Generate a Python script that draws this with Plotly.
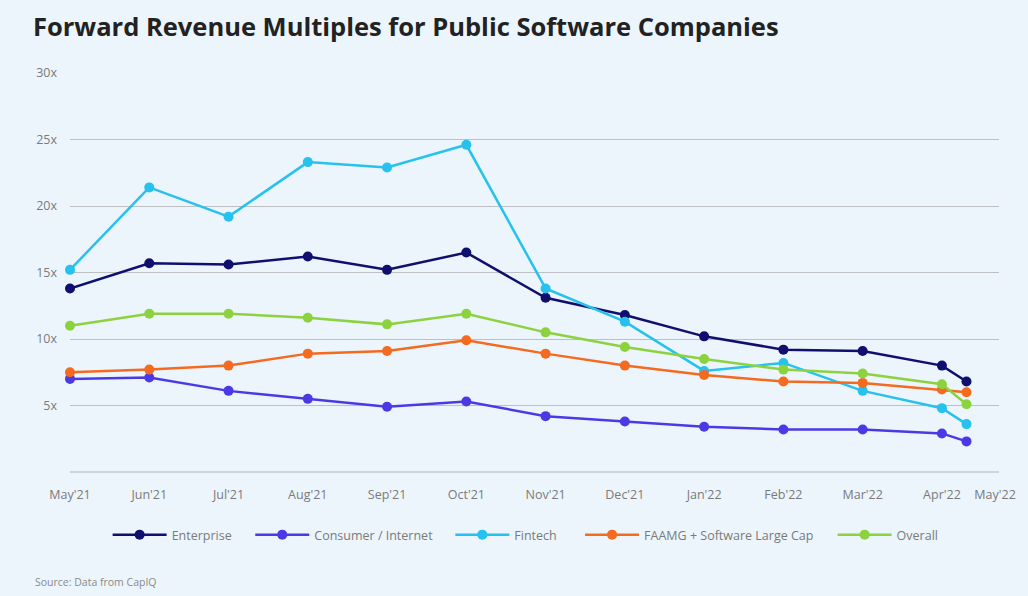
import plotly.graph_objects as go

# months elapsed since May'21 (last observation is a partial month into Apr'22)
month_pos = [0, 1, 2, 3, 4, 5, 6, 7, 8, 9, 10, 11, 11.31]

enterprise = [13.8, 15.7, 15.6, 16.2, 15.2, 16.5, 13.1, 11.8, 10.2, 9.2, 9.1, 8.0, 6.8]
consumer = [7.0, 7.1, 6.1, 5.5, 4.9, 5.3, 4.2, 3.8, 3.4, 3.2, 3.2, 2.9, 2.3]
fintech = [15.2, 21.4, 19.2, 23.3, 22.9, 24.6, 13.8, 11.3, 7.6, 8.2, 6.1, 4.8, 3.6]
faamg = [7.5, 7.7, 8.0, 8.9, 9.1, 9.9, 8.9, 8.0, 7.3, 6.8, 6.7, 6.2, 6.0]
overall = [11.0, 11.9, 11.9, 11.6, 11.1, 11.9, 10.5, 9.4, 8.5, 7.7, 7.4, 6.6, 5.1]

series_names = ["Enterprise", "Consumer / Internet", "Fintech", "FAAMG + Software Large Cap", "Overall"]
series_values = [enterprise, consumer, fintech, faamg, overall]
series_colors = ["#0f0f6e", "#4a3ae6", "#27c1ee", "#f46a1f", "#8cd23e"]

x_tick_vals = [0, 1, 2, 3, 4, 5, 6, 7, 8, 9, 10, 11, 11.67]
x_tick_text = ["May'21", "Jun'21", "Jul'21", "Aug'21", "Sep'21", "Oct'21", "Nov'21", "Dec'21",
               "Jan'22", "Feb'22", "Mar'22", "Apr'22", "May'22"]
y_tick_vals = [0, 5, 10, 15, 20, 25, 30]
y_tick_text = ["", "5x", "10x", "15x", "20x", "25x", "30x"]

BG = "#ECF5FC"
ML, MR, MT, MB = 70, 20, 73, 124
W, H = 1028, 596
PW, PH = W - ML - MR, H - MT - MB

# legend left pixel positions
legend_px = [108, 252, 454, 585, 840]
legend_ids = ["legend", "legend2", "legend3", "legend4", "legend5"]

fig = go.Figure()
for name, vals, col, lid in zip(series_names, series_values, series_colors, legend_ids):
    fig.add_trace(go.Scatter(
        x=month_pos, y=vals, name=name, mode="lines+markers",
        line=dict(color=col, width=2.5),
        marker=dict(color=col, size=10),
        cliponaxis=False, legend=lid,
    ))

legend_y = -(535 - (H - MB)) / PH
legends = {}
for lid, px in zip(legend_ids, legend_px):
    legends[lid] = dict(
        orientation="h", x=(px - ML) / PW, xanchor="left", y=legend_y, yanchor="middle",
        font=dict(size=12.5, color="#7a7a7a"), itemwidth=54,
        bgcolor="rgba(0,0,0,0)",
    )

fig.update_layout(
    width=W, height=H,
    paper_bgcolor=BG, plot_bgcolor=BG,
    margin=dict(l=ML, r=MR, t=MT, b=MB),
    font=dict(family="Open Sans", color="#7a7a7a", size=12),
    title=dict(
        text="<b>Forward Revenue Multiples for Public Software Companies</b>",
        x=33 / W, xref="container", xanchor="left", y=1 - 27 / H, yref="container", yanchor="middle",
        font=dict(family="Open Sans", size=25.5, color="#222222"),
    ),
    showlegend=True,
    **legends,
    xaxis=dict(
        range=[0, 11.72],
        tickvals=x_tick_vals, ticktext=x_tick_text,
        showgrid=False, zeroline=False, showline=False,
        ticks="", ticklabelstandoff=13,
        tickfont=dict(size=12.5, color="#7a7a7a"),
    ),
    yaxis=dict(
        range=[0, 30], tickvals=y_tick_vals, ticktext=y_tick_text,
        showgrid=True, gridcolor="#bdbfc2", gridwidth=1,
        zeroline=True, zerolinecolor="#cdd6de", zerolinewidth=1.5,
        showline=False, ticks="", ticklabelstandoff=12,
        tickfont=dict(size=12.5, color="#7a7a7a"),
    ),
    annotations=[dict(
        text="Source: Data from CapIQ", x=(33 - ML) / PW, y=-(582 - (H - MB)) / PH,
        xref="paper", yref="paper", xanchor="left", yanchor="middle",
        showarrow=False, font=dict(size=10.5, color="#8a8a8a"),
    )],
)

fig.write_html("out.html")
